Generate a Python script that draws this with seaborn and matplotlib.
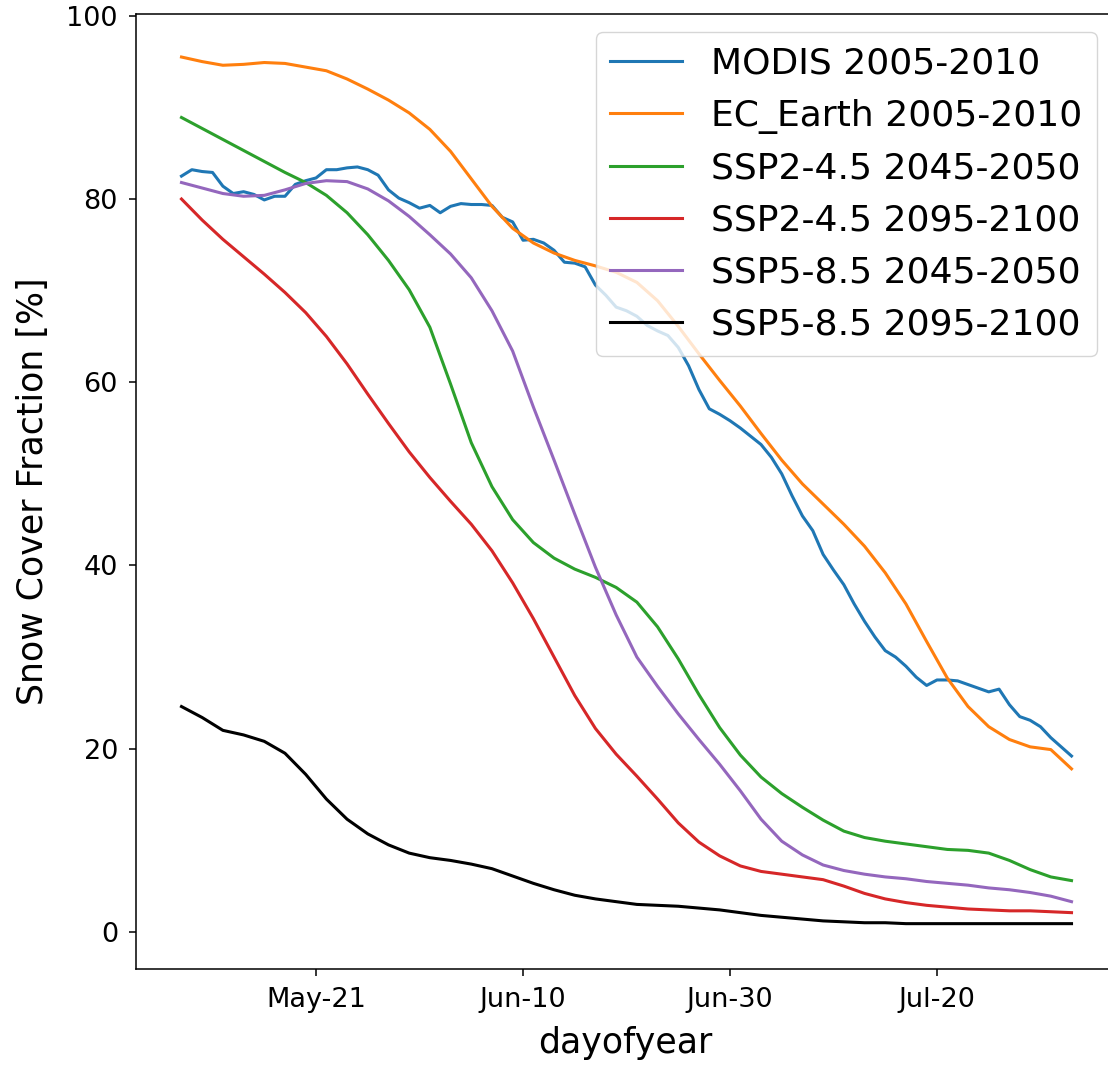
import numpy as np
import pandas as pd
import matplotlib
matplotlib.use("Agg")
import matplotlib.pyplot as plt
import matplotlib.ticker as mticker
import seaborn as sns

# MODIS observations, daily
modis_days = list(range(127, 214))
modis = [82.5, 83.2, 83.0, 82.9, 81.4, 80.6, 80.8, 80.5, 79.9, 80.3,
         80.3, 81.6, 82.0, 82.3, 83.2, 83.2, 83.4, 83.5, 83.2, 82.6,
         81.0, 80.1, 79.6, 79.0, 79.3, 78.5, 79.2, 79.5, 79.4, 79.4,
         79.3, 78.0, 77.5, 75.5, 75.6, 75.2, 74.4, 73.1, 73.0, 72.6,
         70.6, 69.5, 68.2, 67.8, 67.2, 66.2, 65.6, 65.1, 63.8, 61.8,
         59.2, 57.1, 56.5, 55.8, 55.0, 54.1, 53.2, 51.8, 50.0, 47.6,
         45.4, 43.8, 41.2, 39.5, 37.9, 35.8, 33.9, 32.2, 30.7, 30.0,
         29.0, 27.8, 26.9, 27.5, 27.5, 27.4, 27.0, 26.6, 26.2, 26.5,
         24.8, 23.5, 23.1, 22.4, 21.2, 20.2, 19.2]

# model runs, every second day
model_days = list(range(127, 214, 2))
ec_earth = [95.5, 95.0, 94.6, 94.7, 94.9, 94.8, 94.4, 94.0, 93.1, 92.0,
            90.8, 89.4, 87.6, 85.2, 82.2, 79.2, 76.8, 75.2, 74.1, 73.3,
            72.7, 72.0, 70.9, 68.9, 66.1, 63.1, 60.2, 57.4, 54.4, 51.5,
            48.9, 46.7, 44.5, 42.1, 39.2, 35.8, 31.7, 27.7, 24.6, 22.4,
            21.0, 20.2, 19.9, 17.8]
ssp245_mid = [88.9, 87.7, 86.5, 85.3, 84.1, 82.9, 81.8, 80.4, 78.5, 76.1,
              73.3, 70.1, 66.0, 59.8, 53.4, 48.6, 45.0, 42.5, 40.8, 39.6,
              38.7, 37.6, 36.0, 33.3, 29.8, 25.9, 22.3, 19.3, 16.9, 15.1,
              13.6, 12.2, 11.0, 10.3, 9.9, 9.6, 9.3, 9.0, 8.9, 8.6,
              7.8, 6.8, 6.0, 5.6]
ssp245_end = [80.0, 77.7, 75.6, 73.7, 71.8, 69.8, 67.6, 65.0, 62.0, 58.7,
              55.5, 52.4, 49.6, 47.0, 44.5, 41.6, 38.1, 34.2, 30.0, 25.8,
              22.2, 19.4, 17.0, 14.5, 11.9, 9.8, 8.3, 7.2, 6.6, 6.3,
              6.0, 5.7, 5.0, 4.2, 3.6, 3.2, 2.9, 2.7, 2.5, 2.4,
              2.3, 2.3, 2.2, 2.1]
ssp585_mid = [81.8, 81.2, 80.6, 80.3, 80.4, 81.0, 81.7, 82.0, 81.9, 81.1,
              79.8, 78.1, 76.1, 74.0, 71.4, 67.8, 63.4, 57.3, 51.5, 45.6,
              39.8, 34.6, 30.0, 26.8, 23.8, 21.0, 18.3, 15.4, 12.3, 9.9,
              8.4, 7.3, 6.7, 6.3, 6.0, 5.8, 5.5, 5.3, 5.1, 4.8,
              4.6, 4.3, 3.9, 3.3]
ssp585_end = [24.6, 23.4, 22.0, 21.5, 20.8, 19.5, 17.2, 14.5, 12.3, 10.7,
              9.5, 8.6, 8.1, 7.8, 7.4, 6.9, 6.1, 5.3, 4.6, 4.0,
              3.6, 3.3, 3.0, 2.9, 2.8, 2.6, 2.4, 2.1, 1.8, 1.6,
              1.4, 1.2, 1.1, 1.0, 1.0, 0.9, 0.9, 0.9, 0.9, 0.9,
              0.9, 0.9, 0.9, 0.9]

labels = ["MODIS 2005-2010", "EC_Earth 2005-2010", "SSP2-4.5 2045-2050",
          "SSP2-4.5 2095-2100", "SSP5-8.5 2045-2050", "SSP5-8.5 2095-2100"]
colors = ["tab:blue", "tab:orange", "tab:green", "tab:red", "tab:purple", "k"]

series = [(modis_days, modis), (model_days, ec_earth), (model_days, ssp245_mid),
          (model_days, ssp245_end), (model_days, ssp585_mid), (model_days, ssp585_end)]

fig = plt.figure(figsize=(11.08, 10.66), dpi=100)
ax = fig.add_axes([0.1227, 0.091, 0.8836, 0.8959])

for (days, vals), lab, col in zip(series, labels, colors):
    df = pd.DataFrame({"dayofyear": days, "scf": vals})
    sns.lineplot(data=df, x="dayofyear", y="scf", ax=ax, color=col,
                 label=lab, linewidth=2.2)

ax.set_xlim(122.6, 217.2)
ax.set_ylim(-4.05, 100.2)

start = pd.Timestamp("2001-01-01")
ax.xaxis.set_major_locator(mticker.MultipleLocator(20))
ax.xaxis.set_major_formatter(mticker.FuncFormatter(
    lambda x, pos: (start + pd.Timedelta(days=int(round(x)))).strftime("%b-%d")))

for s in ax.spines.values():
    s.set_linewidth(1.1)
ax.tick_params(labelsize=19.5, length=5, width=1.1, pad=8)
ax.set_xlabel("dayofyear", fontsize=25, labelpad=9)
ax.set_ylabel("Snow Cover Fraction [%]", fontsize=25, labelpad=12)

ax.legend(loc="upper right", fontsize=26)

fig.savefig("out.png", dpi=100)
